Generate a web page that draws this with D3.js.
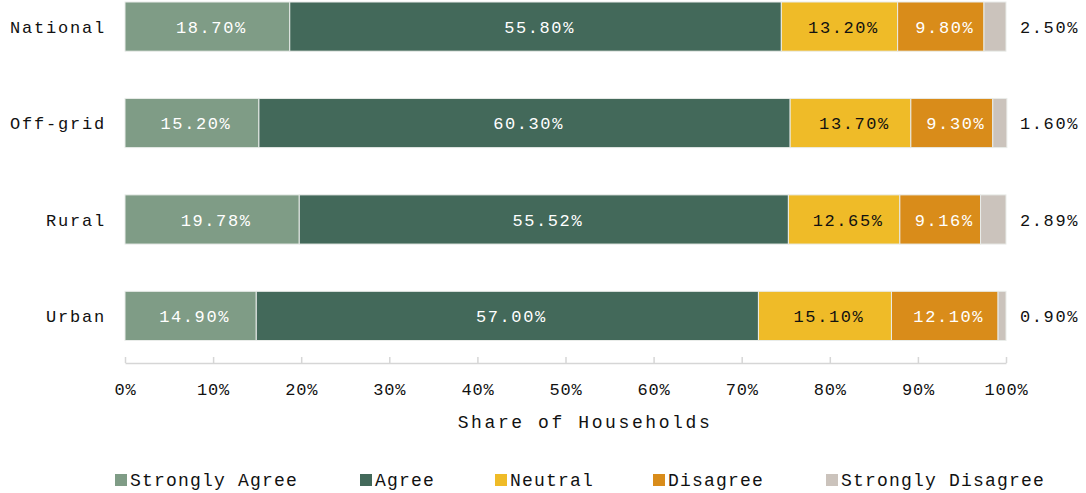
<!DOCTYPE html>
<html>
<head>
<meta charset="utf-8">
<script src="https://cdn.jsdelivr.net/npm/d3@7"></script>
<style>
  html, body { margin: 0; padding: 0; background: #fff; }
  svg { display: block; }
  text { font-family: "Liberation Mono", "DejaVu Sans Mono", monospace; }
</style>
</head>
<body>
<svg id="chart" width="1086" height="493"></svg>
<script>
// Survey response shares by area (percent)
const regions = ["National", "Off-grid", "Rural", "Urban"];
const responses = ["Strongly Agree", "Agree", "Neutral", "Disagree", "Strongly Disagree"];
const stronglyAgree   = [18.70, 15.20, 19.78, 14.90];
const agree           = [55.80, 60.30, 55.52, 57.00];
const neutral         = [13.20, 13.70, 12.65, 15.10];
const disagree        = [9.80, 9.30, 9.16, 12.10];
const stronglyDisagree = [2.50, 1.60, 2.89, 0.90];
const xTicks = [0, 10, 20, 30, 40, 50, 60, 70, 80, 90, 100];

const colors = ["#7f9c86", "#43695a", "#efbb28", "#d98c1a", "#cbc3bc"];
const labelColors = ["#ffffff", "#ffffff", "#111111", "#ffffff", "#111111"];

const rows = regions.map((r, i) => ({
  region: r,
  "Strongly Agree": stronglyAgree[i],
  "Agree": agree[i],
  "Neutral": neutral[i],
  "Disagree": disagree[i],
  "Strongly Disagree": stronglyDisagree[i]
}));

const stacked = d3.stack().keys(responses)(rows);

const svg = d3.select("#chart");

const x = d3.scaleLinear().domain([0, 100]).range([125, 1006]);
const y = d3.scaleBand().domain(regions).range([2, 340.5]).paddingInner(0.49).paddingOuter(0);

// Bars
const layer = svg.append("g").selectAll("g")
  .data(stacked).join("g")
  .attr("fill", (d, i) => colors[i]);

layer.selectAll("rect")
  .data(d => d.map(s => ({ s, key: d.key })))
  .join("rect")
  .attr("x", d => x(d.s[0]))
  .attr("y", d => y(d.s.data.region))
  .attr("width", d => x(d.s[1]) - x(d.s[0]))
  .attr("height", y.bandwidth())
  .attr("stroke", "#e9ece9")
  .attr("stroke-width", 1);

// Value labels
stacked.forEach((series, k) => {
  svg.append("g").selectAll("text")
    .data(series).join("text")
    .attr("x", d => k === 4 ? x(100) + 14 : (x(d[0]) + x(d[1])) / 2 + 4)
    .attr("y", d => y(d.data.region) + y.bandwidth() / 2)
    .attr("dy", "0.36em")
    .attr("text-anchor", k === 4 ? "start" : "middle")
    .attr("fill", k === 4 ? "#111" : labelColors[k])
    .attr("font-size", 17)
    .attr("letter-spacing", 1.6)
    .text(d => (d[1] - d[0]).toFixed(2) + "%");
});

// Category labels
svg.append("g").selectAll("text")
  .data(regions).join("text")
  .attr("x", 106)
  .attr("y", d => y(d) + y.bandwidth() / 2)
  .attr("dy", "0.36em")
  .attr("text-anchor", "end")
  .attr("fill", "#111")
  .attr("font-size", 17)
  .attr("letter-spacing", 1.8)
  .text(d => d);

// X axis
const axis = svg.append("g")
  .attr("transform", "translate(0,363)")
  .call(d3.axisBottom(x).tickValues(xTicks).tickFormat(d => d + "%").tickSizeInner(-6).tickSizeOuter(0));
axis.select(".domain").attr("stroke", "#d6d6d6").attr("stroke-width", 1.5);
axis.selectAll(".tick line").attr("stroke", "#d6d6d6").attr("stroke-width", 1.5);
axis.selectAll(".tick text")
  .attr("font-family", "Liberation Mono, DejaVu Sans Mono, monospace")
  .attr("font-size", 17)
  .attr("letter-spacing", 0.8)
  .attr("fill", "#111")
  .attr("y", 32)
  .attr("dy", 0);

svg.append("text")
  .attr("x", 585)
  .attr("y", 428)
  .attr("text-anchor", "middle")
  .attr("font-size", 18)
  .attr("letter-spacing", 2.6)
  .attr("fill", "#111")
  .text("Share of Households");

// Legend
const legendX = [115, 360, 495, 653, 826];
const legend = svg.append("g").selectAll("g")
  .data(responses).join("g")
  .attr("transform", (d, i) => `translate(${legendX[i]},474)`);
legend.append("rect").attr("width", 12).attr("height", 12).attr("fill", (d, i) => colors[i]);
legend.append("text")
  .attr("x", 15)
  .attr("y", 6)
  .attr("dy", "0.36em")
  .attr("font-size", 18)
  .attr("letter-spacing", 1.2)
  .attr("fill", "#111")
  .text(d => d);
</script>
</body>
</html>
